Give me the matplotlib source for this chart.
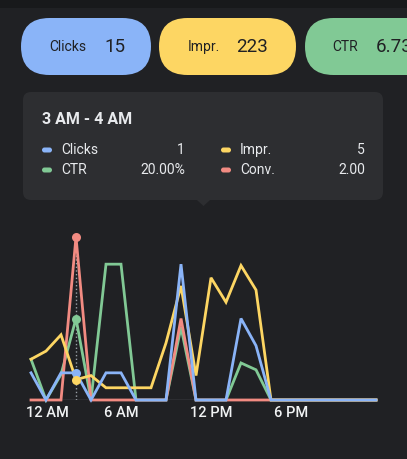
# hourly performance chart, dark theme with summary pills and tooltip
import matplotlib
matplotlib.use('Agg')
import matplotlib.pyplot as plt
import matplotlib.transforms as mtransforms
from matplotlib.patches import FancyBboxPatch, Rectangle, Polygon

plt.rcParams['font.family'] = ['Roboto', 'DejaVu Sans']

# data
hours = list(range(24))
clicks = [1, 0, 1, 1, 0, 1, 1, 0, 0, 0, 5, 0, 0, 0, 3, 2, 0, 0, 0, 0, 0, 0, 0, 0]
impr = [10, 12, 16, 5, 6, 3, 3, 3, 3, 14, 28, 6, 30, 24, 33, 27, 0, 0, 0, 0, 0, 0, 0, 0]
ctr = [10.0, 0, 6.25, 20.0, 0, 33.33, 33.33, 0, 0, 0, 17.86, 0, 0, 0, 9.09, 7.41,
       0, 0, 0, 0, 0, 0, 0, 0]
conv = [0, 0, 0, 2, 0, 0, 0, 0, 0, 0, 1, 0, 0, 0, 0, 0, 0, 0, 0, 0, 0, 0, 0, 0]

pill_names = ['Clicks', 'Impr.', 'CTR']
pill_values = ['15', '223', '6.73%']

tip_title = '3 AM - 4 AM'
tip_hour = 3
tip_rows = [('Clicks', '1', 'Impr.', '5'), ('CTR', '20.00%', 'Conv.', '2.00')]

tick_hours = [0, 6, 12, 18]
tick_labels = ['12 AM', '6 AM', '12 PM', '6 PM']

# colours
bg = '#202124'
blue = '#8ab4f8'
yellow = '#fdd663'
green = '#81c995'
red = '#f28b82'
txt = '#e8eaed'

W, H = 407, 459
fig = plt.figure(figsize=(W / 100, H / 100), dpi=100)
fig.patch.set_facecolor(bg)

# overlay in pixel coords for pills and tooltip
ov = fig.add_axes([0, 0, 1, 1])
ov.set_xlim(0, W)
ov.set_ylim(H, 0)
ov.axis('off')
ov.add_patch(Rectangle((0, 0), W, 8, color='#18191b', lw=0))

pill_x = [(21, 151), (159, 296), (305, 445)]
pill_cols = [blue, yellow, green]
name_dx = [28, 29, 27]
val_dx = [83, 77, 71]
for (x0, x1), c, n, v, dn, dv in zip(pill_x, pill_cols, pill_names, pill_values, name_dx, val_dx):
    ov.add_patch(FancyBboxPatch((x0, 18), x1 - x0, 57,
                                boxstyle='round,pad=0,rounding_size=28.5',
                                fc=c, ec='none', clip_on=False))
    ov.text(x0 + dn, 47, n, fontsize=10, color='#202124', va='center', ha='left')
    ov.text(x0 + dv, 47, v, fontsize=13.5, color='#202124', va='center', ha='left')

# tooltip box
ov.add_patch(FancyBboxPatch((23, 92), 360, 108,
                            boxstyle='round,pad=0,rounding_size=8',
                            fc='#2d2e31', ec='none'))
ov.add_patch(Polygon([(197, 200), (210, 200), (203.5, 206)], closed=True,
                     fc='#2d2e31', ec='none'))
ov.text(42, 119, tip_title, fontsize=11.5, fontweight='bold', color=txt,
        va='center', ha='left')
row_y = [150, 170]
left_cols = [blue, green]
right_cols = [yellow, red]
for (n1, v1, n2, v2), y, c1, c2 in zip(tip_rows, row_y, left_cols, right_cols):
    ov.add_patch(FancyBboxPatch((42, y - 2.5), 10, 5,
                                boxstyle='round,pad=0,rounding_size=2.5',
                                fc=c1, ec='none'))
    ov.add_patch(FancyBboxPatch((221, y - 2.5), 10, 5,
                                boxstyle='round,pad=0,rounding_size=2.5',
                                fc=c2, ec='none'))
    ov.text(61, y, n1, fontsize=10, color=txt, va='center', ha='left')
    ov.text(185, y, v1, fontsize=10, color=txt, va='center', ha='right')
    ov.text(240, y, n2, fontsize=10, color=txt, va='center', ha='left')
    ov.text(365, y, v2, fontsize=10, color=txt, va='center', ha='right')

# chart axes: x 0..23 -> px 31..376, y baseline px 400, top px 237
ax = fig.add_axes([31 / W, (H - 400) / H, 345 / W, 163 / H])
ax.set_facecolor('none')
ax.set_xlim(0, 23)
ax.set_ylim(0, 1)
for s in ax.spines.values():
    s.set_visible(False)
ax.set_yticks([])
ax.set_xticks(tick_hours)
ax.set_xticklabels(tick_labels, fontsize=10.5, color='#f1f3f4', fontweight='medium')
ax.tick_params(axis='x', length=0, pad=4)
labs = ax.get_xticklabels()
labs[0].set_ha('left')
labs[0].set_transform(labs[0].get_transform() +
                      mtransforms.ScaledTranslation(-0.05, 0, fig.dpi_scale_trans))
labs[3].set_transform(labs[3].get_transform() +
                      mtransforms.ScaledTranslation(-0.1, 0, fig.dpi_scale_trans))

ax.axhline(0, color='#5f6368', lw=1, zorder=1)
ax.plot([tip_hour, tip_hour], [0, 1], color='#9aa0a6', lw=1, ls=':', zorder=2)

# each series on its own vertical scale
series = [(ctr, 40, green), (conv, 2, red), (impr, 40, yellow), (clicks, 6, blue)]
for vals, ymax, c in series:
    tr = mtransforms.Affine2D().scale(1, 1 / ymax) + ax.transData
    ax.plot(hours, vals, color=c, lw=2.0, transform=tr, zorder=3,
            solid_joinstyle='miter', clip_on=False)
for vals, ymax, c in [(conv, 2, red), (ctr, 40, green), (clicks, 6, blue), (impr, 40, yellow)]:
    tr = mtransforms.Affine2D().scale(1, 1 / ymax) + ax.transData
    ax.plot([tip_hour], [vals[tip_hour]], 'o', color=c, ms=6.5, mec='none',
            transform=tr, zorder=5, clip_on=False)

fig.savefig('out.png', dpi=100, facecolor=bg)
